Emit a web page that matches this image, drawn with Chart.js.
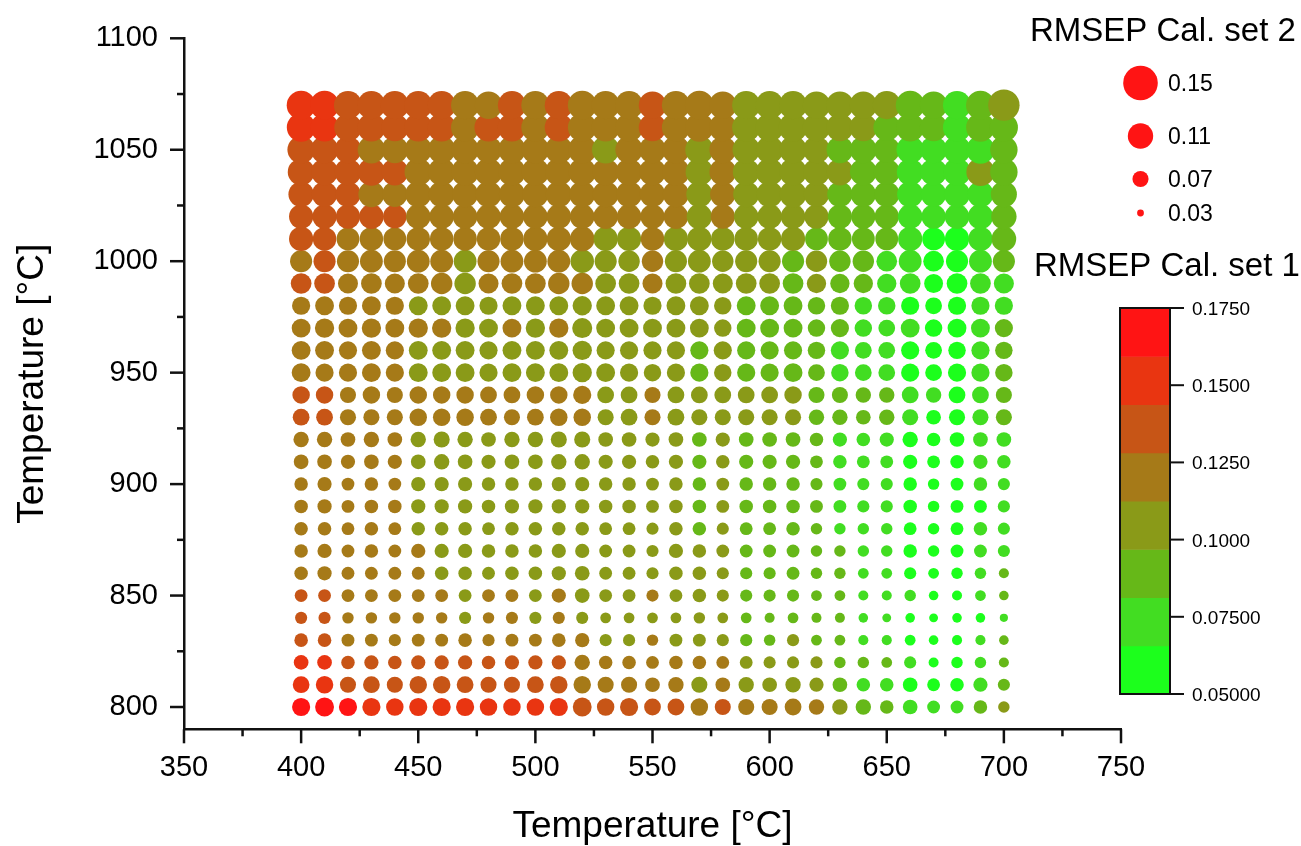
<!DOCTYPE html>
<html>
<head>
<meta charset="utf-8">
<title>RMSEP temperature map</title>
<script src="https://cdn.jsdelivr.net/npm/chart.js@4/dist/chart.umd.min.js"></script>
<style>
  html, body { margin: 0; background: #fff; }
  #wrap { position: relative; width: 1301px; height: 846px; }
</style>
</head>
<body>
<div id="wrap"><canvas id="map" width="1301" height="846"></canvas></div>
<script>
// Temperatures on the two axes
var xTemps = [400,410,420,430,440,450,460,470,480,490,500,510,520,530,540,550,560,570,580,590,600,610,620,630,640,650,660,670,680,690,700];
var yTemps = [800,810,820,830,840,850,860,870,880,890,900,910,920,930,940,950,960,970,980,990,1000,1010,1020,1030,1040,1050,1060,1070];

var xMajor = [350,400,450,500,550,600,650,700,750];
var xMinor = [375,425,475,525,575,625,675,725];
var yMajor = [800,850,900,950,1000,1050,1100];
var yMinor = [825,875,925,975,1025,1075];

// Colour band of Cal. set 1 per point (0 = 0.05 end, 7 = 0.175 end), one row per yTemps entry
var set1Bands = [
  [7,7,7,6,6,6,6,6,6,6,6,6,5,5,5,5,5,4,5,4,4,4,4,3,2,2,1,1,1,2,3],
  [6,6,5,5,5,5,5,5,5,5,5,5,4,4,4,4,4,3,4,3,3,3,3,2,1,1,0,0,0,1,2],
  [6,6,5,5,5,5,5,5,5,5,5,5,4,4,4,4,4,4,4,3,3,3,3,2,2,2,1,0,0,1,2],
  [5,5,4,4,4,4,4,4,4,4,4,4,4,3,3,4,3,3,3,2,2,3,2,2,1,1,0,0,0,1,2],
  [5,5,4,4,4,4,4,3,4,4,3,4,3,3,3,3,3,3,3,2,2,2,2,2,1,1,0,0,0,0,1],
  [5,5,4,4,4,4,4,3,4,4,3,4,3,3,3,4,3,3,3,2,2,2,2,2,1,1,1,0,0,1,2],
  [4,4,4,4,4,4,3,3,3,3,3,3,3,3,3,3,3,3,3,2,2,2,2,2,1,1,0,0,0,1,2],
  [4,4,4,4,4,4,3,3,3,3,3,3,3,3,3,3,3,3,3,2,2,2,2,2,1,1,0,0,0,1,1],
  [4,4,4,4,4,3,3,3,3,3,3,3,3,3,3,3,3,2,3,2,2,2,2,1,1,1,0,0,0,1,1],
  [4,4,4,4,4,3,3,3,3,3,3,3,3,3,3,3,3,2,3,2,2,2,2,1,1,1,0,0,0,0,1],
  [4,4,4,4,4,3,3,3,3,3,3,3,3,3,3,3,3,2,3,2,2,2,2,1,1,1,0,0,0,1,1],
  [4,4,4,4,4,3,3,3,3,3,3,3,3,3,3,3,3,2,3,2,2,2,2,1,1,1,0,0,0,1,1],
  [4,4,4,4,4,3,3,3,3,3,3,3,3,3,3,3,3,2,3,2,2,2,2,1,1,1,0,0,0,1,1],
  [5,5,4,4,4,4,4,4,4,4,4,4,4,3,3,4,3,3,3,3,3,3,2,2,2,2,1,0,0,1,2],
  [5,5,4,4,4,4,4,4,4,4,4,4,4,3,3,4,3,3,3,3,3,3,2,2,2,2,1,1,0,1,2],
  [4,4,4,4,4,3,3,3,3,3,3,3,3,3,3,3,3,2,3,2,2,2,2,1,1,1,0,0,0,1,2],
  [4,4,4,4,4,3,3,3,3,3,3,3,3,3,3,3,3,2,3,2,2,2,2,1,1,1,0,0,0,1,2],
  [4,4,4,4,4,4,4,3,3,4,3,4,3,3,3,3,3,3,3,2,2,2,2,2,1,1,1,0,0,1,2],
  [4,4,4,4,4,3,3,3,3,3,3,3,3,3,3,3,3,3,3,2,2,2,2,2,1,1,0,0,0,1,1],
  [5,5,4,4,4,4,4,3,4,4,4,4,4,3,3,4,3,3,3,3,3,2,3,2,2,1,1,0,0,1,1],
  [4,5,4,4,4,4,4,3,4,4,4,4,3,3,3,4,3,3,3,3,3,2,3,2,2,1,1,0,0,1,2],
  [5,5,4,4,4,4,4,4,4,4,4,4,4,3,3,4,3,3,3,3,3,3,2,2,2,2,1,0,0,1,2],
  [5,5,5,5,5,4,4,4,4,4,4,4,4,4,4,4,4,3,4,3,3,3,3,2,2,2,1,1,1,1,2],
  [5,5,5,4,4,4,4,4,4,4,4,4,4,4,4,4,4,3,4,3,3,3,3,2,2,2,1,1,1,1,2],
  [5,5,5,5,5,4,4,4,4,4,4,4,4,4,4,4,4,3,4,3,3,3,3,3,2,2,1,1,1,3,2],
  [5,5,5,4,4,4,4,4,4,4,4,4,4,3,4,4,4,3,4,3,3,3,3,2,2,2,1,1,1,1,2],
  [6,6,5,5,5,5,5,4,5,5,4,5,4,4,4,5,4,4,4,3,3,3,3,3,3,2,2,2,1,2,2],
  [6,6,5,5,5,5,5,4,4,5,4,5,4,4,4,5,4,4,4,3,3,3,3,3,3,3,2,2,1,2,3]
];

// RMSEP of Cal. set 2 per point, in thousandths, one row per yTemps entry
var set2Milli = [
  [79,82,79,79,76,79,79,79,76,76,76,79,82,76,79,73,73,76,70,70,70,73,67,67,67,59,64,56,56,59,50],
  [73,76,70,73,70,76,76,73,70,70,73,76,76,70,70,64,67,70,64,67,64,67,62,64,59,59,64,56,59,62,53],
  [64,64,59,62,59,62,62,62,59,62,62,62,67,59,59,56,59,59,56,56,53,53,53,50,50,47,53,44,50,50,44],
  [59,59,56,56,53,56,56,59,53,56,56,59,62,53,53,50,56,56,53,53,50,53,47,47,44,44,47,42,44,44,42],
  [53,53,50,50,50,50,50,53,50,53,53,53,53,47,47,47,47,50,47,47,44,47,44,44,42,39,42,39,42,42,36],
  [56,56,56,56,56,56,56,56,56,56,56,62,64,56,56,53,56,59,53,53,53,53,47,47,44,44,50,42,44,47,42],
  [59,62,56,56,56,56,59,59,56,59,59,62,64,56,56,53,59,59,53,53,53,56,50,50,47,47,53,47,50,50,44],
  [59,62,56,59,56,62,62,62,59,59,59,62,62,56,56,53,62,59,56,56,56,56,50,50,50,50,59,50,56,56,53],
  [59,59,56,59,56,59,59,59,56,59,59,59,59,56,56,53,59,59,53,56,56,59,50,50,50,50,56,50,56,59,53],
  [59,62,56,59,59,62,62,62,59,62,62,62,62,59,59,56,59,59,56,59,59,59,56,56,53,53,59,50,56,56,53],
  [59,62,56,59,56,62,62,62,59,59,59,62,62,59,59,56,59,59,56,59,59,59,53,56,53,53,59,50,56,59,53],
  [64,64,62,64,62,64,67,64,62,64,64,67,67,62,62,59,62,62,59,62,62,62,56,59,56,56,62,56,59,62,59],
  [67,67,64,67,64,67,70,67,64,67,67,70,70,64,64,62,64,64,62,64,64,64,59,62,59,62,67,59,64,64,64],
  [73,73,70,70,70,76,76,76,73,70,73,76,76,70,73,70,73,70,70,70,70,70,67,67,64,67,70,64,70,70,70],
  [76,76,70,76,70,76,76,76,73,73,76,76,79,73,73,70,73,73,73,73,73,76,70,70,67,67,73,67,73,73,70],
  [82,79,79,82,79,82,82,82,79,82,82,82,84,82,79,76,79,79,76,79,79,82,73,76,73,73,79,73,79,79,76],
  [82,82,79,82,79,82,82,82,79,82,82,82,84,79,79,79,79,79,79,79,79,79,76,79,73,73,79,73,76,79,76],
  [82,84,82,84,82,84,84,84,82,82,84,84,87,82,82,82,82,82,76,82,82,82,76,79,76,73,82,76,82,82,79],
  [79,82,79,82,79,82,82,82,79,82,82,82,84,82,82,79,82,82,76,82,82,82,76,79,76,76,79,73,79,79,79],
  [90,90,87,90,87,90,93,93,87,90,90,93,93,90,90,87,90,90,87,90,90,90,84,84,84,84,90,82,90,90,87],
  [96,96,96,99,96,99,99,99,96,99,99,99,102,96,93,93,96,99,93,96,96,96,93,93,93,90,99,90,96,99,96],
  [105,102,99,102,99,102,102,102,102,102,105,105,107,105,105,102,105,105,102,102,102,105,99,102,99,99,105,99,105,105,107],
  [105,105,105,107,102,107,107,107,107,107,107,107,107,107,107,105,107,110,105,107,107,107,105,105,105,105,107,105,107,110,110],
  [110,110,110,113,110,113,113,113,113,113,113,113,113,113,113,110,113,113,110,113,113,116,110,110,110,110,113,110,113,113,113],
  [116,116,116,119,116,119,119,119,119,119,119,119,119,116,116,116,119,119,116,116,119,119,116,116,116,113,116,116,119,122,119],
  [119,119,116,119,116,119,119,119,116,119,119,119,122,119,119,116,119,122,116,119,119,119,116,116,116,113,119,116,119,122,119],
  [124,122,119,122,119,122,122,122,122,122,122,122,124,122,122,119,122,124,119,122,122,124,119,119,119,116,122,119,122,124,122],
  [125,125,122,122,122,122,122,122,119,122,122,122,125,122,122,119,122,125,119,122,122,122,119,119,119,122,125,119,122,125,136]
];

// Legend contents
var sizeLegend = [0.15, 0.11, 0.07, 0.03];
var barTicks = [0.175, 0.15, 0.125, 0.1, 0.075, 0.05];
var barLabels = ['0.1750', '0.1500', '0.1250', '0.1000', '0.07500', '0.05000'];
var bandColors = ['#1cff1c', '#42dd22', '#66b818', '#8a9a18', '#a67a18', '#c75516', '#e93511', '#ff1414'];

var FONT = '"Liberation Sans", Arial, sans-serif';

// Bubble radius in px for an RMSEP value, same rule as the size legend
function radius(v) { return 3.4 + (v - 0.03) * 116; }

function points() {
  var out = [];
  // bottom row first, left to right: upper rows overlap lower ones like the original
  yTemps.forEach(function (y, j) {
    xTemps.forEach(function (x, i) {
      out.push({ x: x, y: y, r: radius(set2Milli[j][i] / 1000) });
    });
  });
  return out;
}

function pointColors() {
  var out = [];
  set1Bands.forEach(function (row) {
    row.forEach(function (b) { out.push(bandColors[b]); });
  });
  return out;
}

// Outward major/minor ticks, Chart.js only has one tick length per scale
var axisTicks = {
  id: 'axisTicks',
  afterDraw: function (chart) {
    var c = chart.ctx, a = chart.chartArea, sx = chart.scales.x, sy = chart.scales.y;
    c.save();
    c.strokeStyle = '#111';
    c.lineWidth = 2.5;
    function tickX(v, len) {
      var p = sx.getPixelForValue(v);
      c.beginPath(); c.moveTo(p, a.bottom); c.lineTo(p, a.bottom + len); c.stroke();
    }
    function tickY(v, len) {
      var p = sy.getPixelForValue(v);
      c.beginPath(); c.moveTo(a.left, p); c.lineTo(a.left - len, p); c.stroke();
    }
    xMajor.forEach(function (v) { tickX(v, 14); });
    xMinor.forEach(function (v) { tickX(v, 7); });
    yMajor.forEach(function (v) { tickY(v, 14); });
    yMinor.forEach(function (v) { tickY(v, 7); });
    c.restore();
  }
};

// Size legend and colour bar at the right of the plot
var sideLegends = {
  id: 'sideLegends',
  afterDraw: function (chart) {
    var c = chart.ctx;
    c.save();
    c.fillStyle = '#000';
    c.textBaseline = 'alphabetic';
    c.textAlign = 'left';
    c.font = '33px ' + FONT;
    c.fillText('RMSEP Cal. set 2', 1030, 41);
    c.fillText('RMSEP Cal. set 1', 1034, 276);

    var rowY = [83, 136, 179, 213];
    sizeLegend.forEach(function (v, i) {
      c.fillStyle = '#ff1414';
      c.beginPath(); c.arc(1140.5, rowY[i], radius(v), 0, Math.PI * 2); c.fill();
      c.fillStyle = '#000';
      c.font = '23px ' + FONT;
      c.fillText(v.toFixed(2), 1168, rowY[i] + 8);
    });

    var left = 1120, right = 1170, top = 308, bottom = 694;
    var bandH = (bottom - top) / bandColors.length;
    bandColors.forEach(function (col, i) {
      c.fillStyle = col;
      c.fillRect(left, bottom - (i + 1) * bandH, right - left, bandH + 0.5);
    });
    c.strokeStyle = '#111';
    c.lineWidth = 2;
    c.strokeRect(left, top, right - left, bottom - top);
    var span = barTicks[0] - barTicks[barTicks.length - 1];
    c.font = '19px ' + FONT;
    barTicks.forEach(function (v, i) {
      var p = bottom - (v - barTicks[barTicks.length - 1]) / span * (bottom - top);
      c.beginPath(); c.moveTo(right, p); c.lineTo(1184, p); c.stroke();
      c.fillStyle = '#000';
      c.fillText(barLabels[i], 1192, p + 7);
    });
    c.restore();
  }
};

new Chart(document.getElementById('map'), {
  type: 'bubble',
  data: {
    datasets: [{
      data: points(),
      backgroundColor: pointColors(),
      borderWidth: 0,
      hoverRadius: 0,
      clip: false
    }]
  },
  plugins: [axisTicks, sideLegends],
  options: {
    responsive: false,
    animation: false,
    events: [],
    layout: { padding: { left: 0, top: 38.3, right: 180, bottom: 0 } },
    plugins: { legend: { display: false }, tooltip: { enabled: false } },
    scales: {
      x: {
        type: 'linear', min: 350, max: 750,
        afterBuildTicks: function (s) { s.ticks = xMajor.map(function (v) { return { value: v }; }); },
        afterFit: function (s) { s.height = 116.7; s.paddingLeft = 0; s.paddingRight = 0; },
        grid: { drawOnChartArea: false, drawTicks: false },
        border: { color: '#111', width: 2.5 },
        ticks: { color: '#000', padding: 21, maxRotation: 0, autoSkip: false, callback: function (v) { return String(v); }, font: { family: FONT, size: 29 } },
        title: { display: true, text: 'Temperature [°C]', color: '#000', padding: { top: 8, bottom: -3 }, font: { family: FONT, size: 37 } }
      },
      y: {
        type: 'linear', min: 790, max: 1100,
        afterBuildTicks: function (s) { s.ticks = yMajor.map(function (v) { return { value: v }; }); },
        afterFit: function (s) { s.width = 184; s.paddingTop = 0; s.paddingBottom = 0; },
        grid: { drawOnChartArea: false, drawTicks: false },
        border: { color: '#111', width: 2.5 },
        ticks: { color: '#000', padding: 26, autoSkip: false, callback: function (v) { return String(v); }, font: { family: FONT, size: 29 } },
        title: { display: true, text: 'Temperature [°C]', color: '#000', padding: { top: 11, bottom: 0 }, font: { family: FONT, size: 37 } }
      }
    }
  }
});
</script>
</body>
</html>
